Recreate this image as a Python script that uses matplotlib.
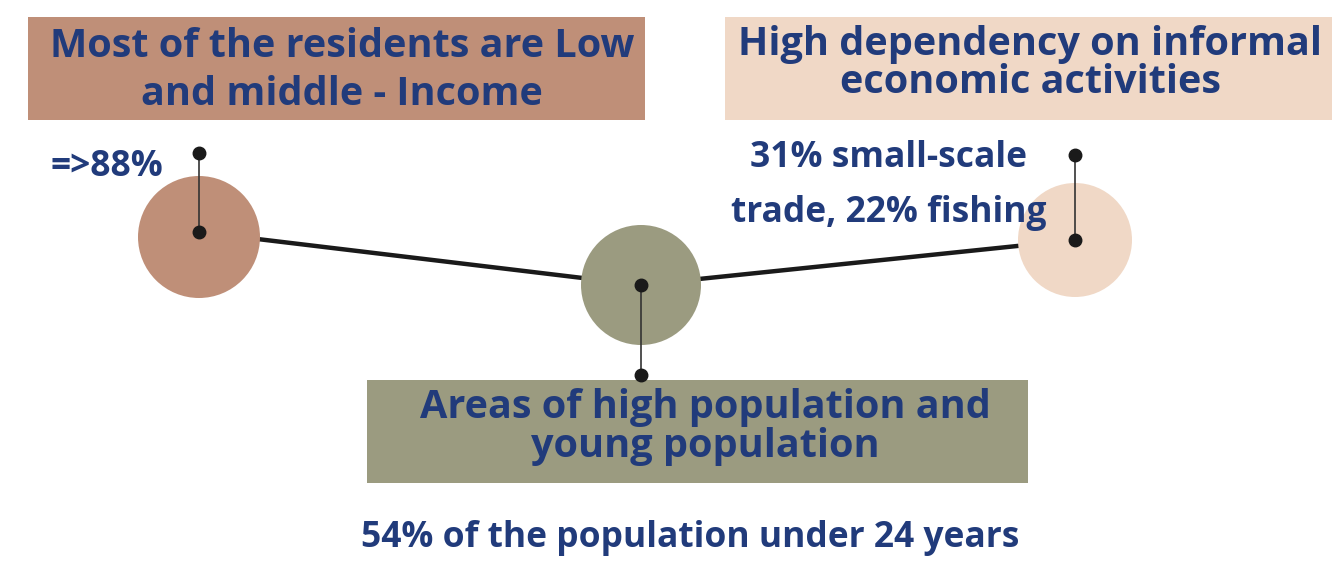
import matplotlib.pyplot as plt
from matplotlib.patches import Circle, Rectangle

# infographic content
headlines = [['Most of the residents are Low', 'and middle - Income'],
             ['Areas of high population and', 'young population'],
             ['High dependency on informal', 'economic activities']]
details = [['=>88%'], ['54% of the population under 24 years'],
           ['31% small-scale', 'trade, 22% fishing']]
node_colors = ['#BF8F78', '#9B9B80', '#F0D8C6']

# layout (pixel space, y downwards)
node_x = [199, 641, 1075]
node_y = [237, 285, 240]
node_r = [61, 60, 57]
box_xy = [(28, 17, 617, 103), (367, 380, 661, 103), (725, 17, 620, 103)]
stem_end = [153, 375, 155]
dot_y = [232, 285, 240]
head_pos = [(342, [57, 105]), (705, [418, 457]), (1030, [55, 93])]
det_pos = [(50, 'left', [176]), (690, 'center', [547]), (889, 'center', [167, 222])]

navy = '#213B7B'
W, H = 1332, 567
fig = plt.figure(figsize=(W / 100, H / 100), dpi=100)
ax = fig.add_axes([0, 0, 1, 1])
ax.set_xlim(0, W)
ax.set_ylim(H, 0)
ax.set_aspect('equal')
ax.axis('off')

# connecting line behind the nodes
ax.plot(node_x, dot_y, color='#1a1a1a', lw=3.2, zorder=1, solid_capstyle='butt')

for i in range(3):
    x, y, w, h = box_xy[i]
    ax.add_patch(Rectangle((x, y), w, h, facecolor=node_colors[i], edgecolor='none', zorder=1))
    ax.add_patch(Circle((node_x[i], node_y[i]), node_r[i], facecolor=node_colors[i],
                        edgecolor='none', zorder=2))
    ax.plot([node_x[i], node_x[i]], [dot_y[i], stem_end[i]], color='#333333', lw=1.2, zorder=3)
    ax.plot([node_x[i], node_x[i]], [dot_y[i], stem_end[i]], 'o', color='#1a1a1a', ms=9, zorder=4)

    cx, ys = head_pos[i]
    for line, yy in zip(headlines[i], ys):
        ax.text(cx, yy, line, color=navy, fontsize=28.5, fontweight='bold', family='Open Sans',
                fontstretch='normal', ha='center', va='baseline', zorder=5)

    dx, ha, ys = det_pos[i]
    for line, yy in zip(details[i], ys):
        ax.text(dx, yy, line, color=navy, fontsize=25.5, fontweight='bold',
                family='Open Sans', ha=ha, va='baseline', zorder=5)

fig.savefig('out.png', dpi=100, facecolor='white')
